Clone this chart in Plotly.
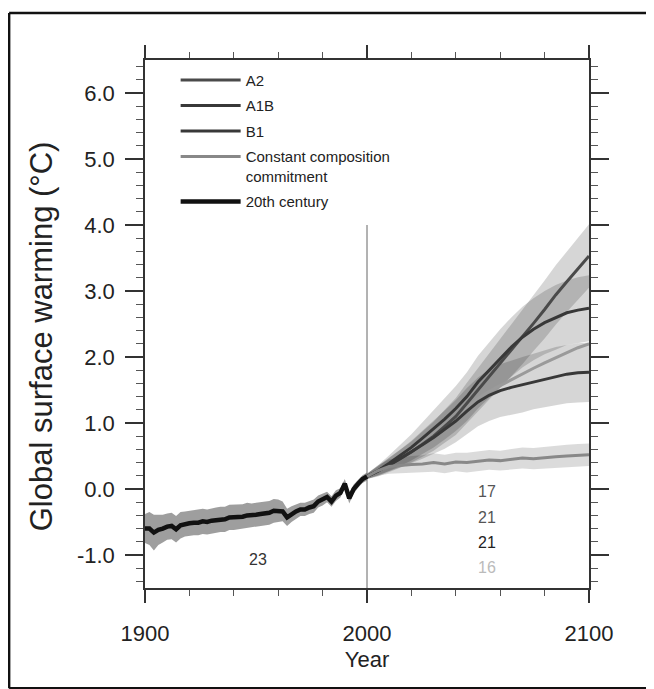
import plotly.graph_objects as go

# ---------------- data ----------------
hist_years = list(range(1900, 2001, 2))
hist_mean = [-0.60, -0.60, -0.66, -0.62, -0.60, -0.57, -0.56, -0.61, -0.55, -0.53,
             -0.52, -0.51, -0.51, -0.49, -0.50, -0.48, -0.47, -0.46, -0.46, -0.43,
             -0.43, -0.42, -0.42, -0.40, -0.40, -0.39, -0.38, -0.37, -0.36, -0.33,
             -0.33, -0.34, -0.43, -0.38, -0.34, -0.31, -0.31, -0.28, -0.26, -0.19,
             -0.16, -0.12, -0.19, -0.10, -0.06, 0.08, -0.14, 0.00, 0.08, 0.15, 0.19]
hist_spread = [0.22, 0.25, 0.27, 0.23, 0.21, 0.20, 0.20, 0.20, 0.20, 0.19,
               0.19, 0.19, 0.19, 0.19, 0.19, 0.19, 0.19, 0.19, 0.19, 0.19,
               0.19, 0.19, 0.19, 0.19, 0.18, 0.18, 0.18, 0.18, 0.18, 0.18,
               0.17, 0.15, 0.13, 0.12, 0.11, 0.10, 0.10, 0.10, 0.10, 0.09,
               0.09, 0.08, 0.08, 0.08, 0.07, 0.07, 0.08, 0.07, 0.06, 0.06, 0.06]

scen_years = list(range(2000, 2101, 5))
a2_mean = [0.19, 0.27, 0.37, 0.46, 0.56, 0.68, 0.80, 0.95, 1.10, 1.30, 1.50,
           1.70, 1.90, 2.10, 2.30, 2.51, 2.72, 2.94, 3.14, 3.34, 3.53]
a2_spread = [0.04, 0.07, 0.10, 0.13, 0.16, 0.19, 0.22, 0.25, 0.28, 0.31, 0.33,
             0.35, 0.37, 0.39, 0.41, 0.42, 0.44, 0.45, 0.46, 0.47, 0.48]
a1b_mean = [0.19, 0.28, 0.39, 0.51, 0.63, 0.77, 0.91, 1.06, 1.22, 1.40, 1.62,
            1.80, 1.98, 2.15, 2.30, 2.42, 2.52, 2.60, 2.67, 2.71, 2.74]
a1b_spread = [0.04, 0.08, 0.12, 0.16, 0.20, 0.24, 0.28, 0.31, 0.34, 0.37, 0.40,
              0.42, 0.44, 0.45, 0.46, 0.47, 0.48, 0.49, 0.49, 0.50, 0.50]
b1_mean = [0.19, 0.27, 0.36, 0.46, 0.56, 0.67, 0.78, 0.90, 1.03, 1.18, 1.32,
           1.42, 1.49, 1.54, 1.58, 1.63, 1.67, 1.71, 1.74, 1.76, 1.77]
b1_spread = [0.04, 0.08, 0.11, 0.14, 0.17, 0.21, 0.25, 0.29, 0.32, 0.35, 0.37,
             0.39, 0.40, 0.41, 0.42, 0.42, 0.43, 0.44, 0.44, 0.45, 0.45]
overlap_mean = [0.19, 0.28, 0.38, 0.49, 0.60, 0.72, 0.84, 0.97, 1.10, 1.24, 1.37,
                1.48, 1.57, 1.66, 1.75, 1.83, 1.91, 1.99, 2.07, 2.14, 2.20]
commit_mean = [0.19, 0.28, 0.34, 0.36, 0.37, 0.38, 0.40, 0.38, 0.41, 0.40, 0.42,
               0.44, 0.43, 0.45, 0.47, 0.46, 0.48, 0.49, 0.50, 0.51, 0.52]
commit_spread = [0.04, 0.08, 0.11, 0.12, 0.13, 0.13, 0.14, 0.14, 0.14, 0.15, 0.15,
                 0.15, 0.15, 0.16, 0.16, 0.16, 0.16, 0.17, 0.17, 0.17, 0.17]

model_counts = ["23", "17", "21", "21", "16"]
count_years = [1951, 2054, 2054, 2054, 2054]
count_values = [-1.07, -0.04, -0.43, -0.81, -1.19]
count_colors = ["#333333", "#555555", "#555555", "#222222", "#bbbbbb"]

divider_year = [2000, 2000]
divider_range = [-1.5, 4.0]

y_ticks = [-1.0, 0.0, 1.0, 2.0, 3.0, 4.0, 5.0, 6.0]
y_tick_labels = ["-1.0", "0.0", "1.0", "2.0", "3.0", "4.0", "5.0", "6.0"]
x_ticks = [1900, 2000, 2100]

FONT = "Liberation Sans, Arial, Helvetica, sans-serif"

fig = go.Figure()


def band(xs, mean, spread, color):
    upper = [m + s for m, s in zip(mean, spread)]
    lower = [m - s for m, s in zip(mean, spread)]
    fig.add_trace(go.Scatter(x=xs + xs[::-1], y=upper + lower[::-1], fill="toself",
                             fillcolor=color, line=dict(width=0), mode="lines",
                             showlegend=False, hoverinfo="skip"))


band(hist_years, hist_mean, hist_spread, "rgba(0,0,0,0.38)")
band(scen_years, a2_mean, a2_spread, "rgba(0,0,0,0.16)")
band(scen_years, a1b_mean, a1b_spread, "rgba(0,0,0,0.16)")
band(scen_years, b1_mean, b1_spread, "rgba(0,0,0,0.16)")
band(scen_years, commit_mean, commit_spread, "rgba(0,0,0,0.14)")

fig.add_trace(go.Scatter(x=divider_year, y=divider_range, mode="lines",
                         line=dict(color="#666666", width=1), showlegend=False,
                         hoverinfo="skip"))

fig.add_trace(go.Scatter(x=scen_years, y=overlap_mean, mode="lines",
                         line=dict(color="#9a9a9a", width=3), showlegend=False))

fig.add_trace(go.Scatter(x=scen_years, y=a2_mean, mode="lines", name="A2",
                         legendgroup="a2", line=dict(color="#4a4a4a", width=3)))
fig.add_trace(go.Scatter(x=scen_years, y=a1b_mean, mode="lines", name="A1B",
                         legendgroup="a1b", line=dict(color="#383838", width=3)))
fig.add_trace(go.Scatter(x=scen_years, y=b1_mean, mode="lines", name="B1",
                         legendgroup="b1", line=dict(color="#383838", width=3)))
fig.add_trace(go.Scatter(x=scen_years, y=commit_mean, mode="lines",
                         name="Constant composition<br>commitment",
                         legendgroup="cc", line=dict(color="#888888", width=3)))
fig.add_trace(go.Scatter(x=hist_years, y=hist_mean, mode="lines", name="20th century",
                         legendgroup="h", line=dict(color="#111111", width=4.5)))

for txt, xv, yv, col in zip(model_counts, count_years, count_values, count_colors):
    fig.add_annotation(x=xv, y=yv, text=txt, showarrow=False,
                       font=dict(family=FONT, size=16, color=col))

# y-axis title
fig.add_annotation(xref="paper", yref="paper", x=-0.234, y=0.477, textangle=-90,
                   text="Global surface warming (°C)", showarrow=False,
                   xanchor="center", yanchor="middle",
                   font=dict(family=FONT, size=31, color="#222222"))

# outer frame of the scanned figure
frame = dict(type="line", xref="paper", yref="paper", line=dict(color="#111111", width=2.5))
fig.add_shape(x0=-0.306, x1=1.2, y0=1.089, y1=1.089, **frame)
fig.add_shape(x0=-0.306, x1=-0.306, y0=-0.19, y1=1.089, **frame)
fig.add_shape(x0=-0.306, x1=1.2, y0=-0.19, y1=-0.19, **frame)

axis_common = dict(showgrid=False, zeroline=False, showline=True, linecolor="#333333",
                   linewidth=1.5, mirror="ticks", ticks="outside", tickcolor="#333333",
                   tickwidth=1.5, tickfont=dict(family=FONT, size=22, color="#222222"))

fig.update_xaxes(range=[1900, 2100], tickvals=x_ticks, ticklen=13,
                 ticklabelstandoff=12,
                 minor=dict(dtick=20, tick0=1900, ticklen=6, ticks="outside",
                            tickcolor="#555555", tickwidth=1),
                 title=dict(text="Year", font=dict(family=FONT, size=22, color="#222222"),
                            standoff=6),
                 **axis_common)
fig.update_yaxes(range=[-1.5, 6.5], tickvals=y_ticks, ticktext=y_tick_labels, ticklen=18,
                 ticklabelstandoff=6,
                 minor=dict(dtick=0.2, tick0=0, ticklen=7, ticks="outside",
                            tickcolor="#555555", tickwidth=1),
                 **axis_common)

fig.update_layout(
    width=654, height=689,
    margin=dict(l=137, r=73, t=52, b=109),
    paper_bgcolor="white", plot_bgcolor="white",
    font=dict(family=FONT, color="#222222"),
    legend=dict(x=0.069, y=0.993, xanchor="left", yanchor="top", traceorder="grouped",
                tracegroupgap=3, itemwidth=60, valign="top",
                font=dict(family=FONT, size=15, color="#222222"),
                bgcolor="rgba(0,0,0,0)"),
)

fig.write_html("out.html")
